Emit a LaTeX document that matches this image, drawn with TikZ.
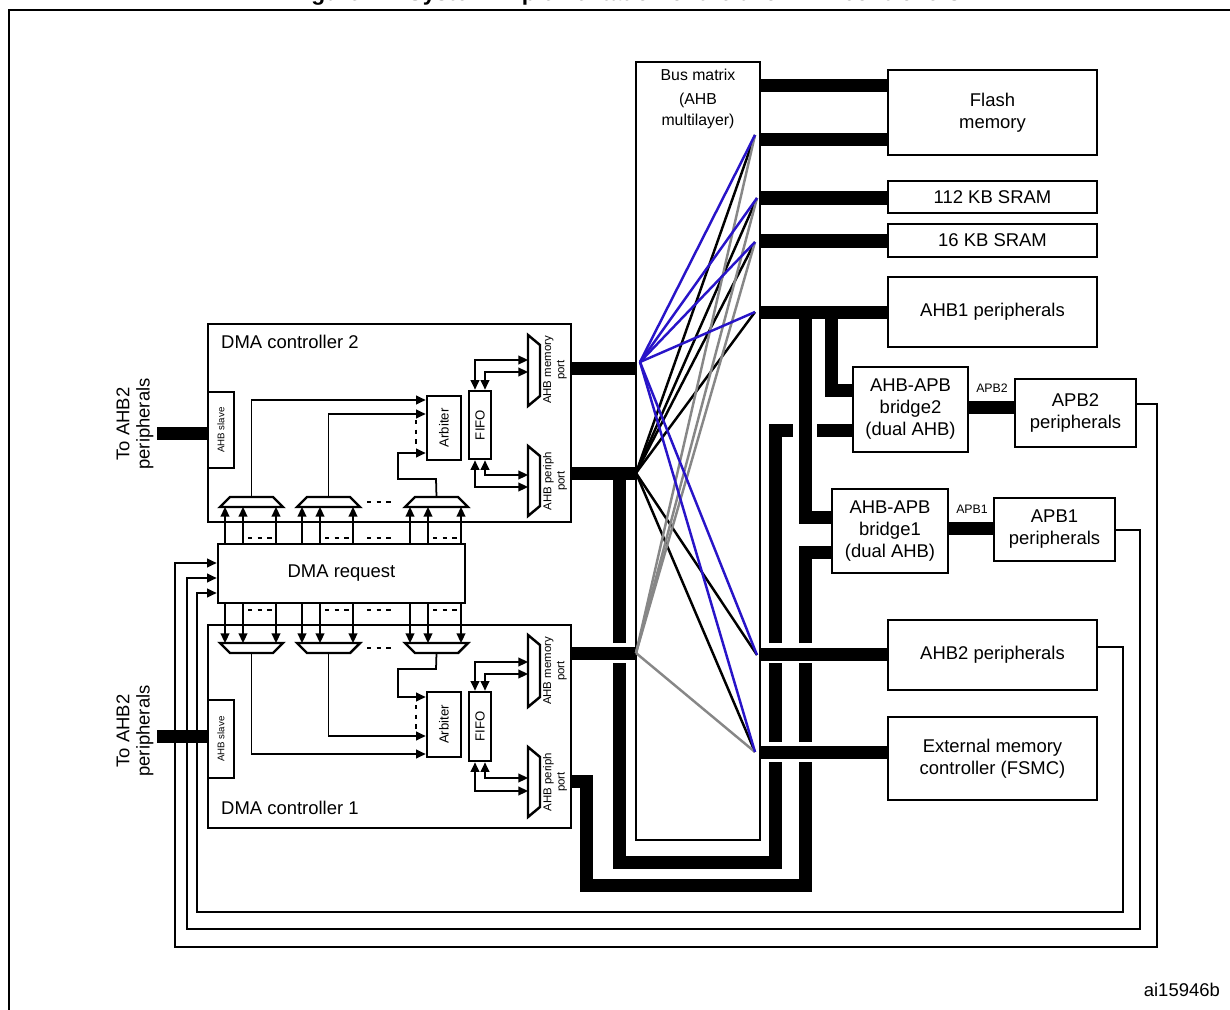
\documentclass[tikz,border=0pt]{standalone}
\usepackage{fontspec}
\setmainfont{Liberation Sans}
\usetikzlibrary{positioning,arrows.meta,calc}
\definecolor{busblue}{RGB}{40,20,200}
\definecolor{busgray}{RGB}{135,135,135}
\tikzset{
  box/.style={draw, line width=1.5pt, align=center, inner sep=0pt, font=\fontsize{10.5}{12.5}\selectfont},
  bus/.style={line width=7.4pt, line join=miter},
  mline/.style={line width=1.4pt},
  link/.style={line width=1pt},
  tip/.tip={Triangle[length=5.5pt,width=5pt]},
  arr/.style={link, -tip},
  darr/.style={link, tip-tip},
  mux/.style={line width=1.4pt, line join=miter},
  dots/.style={line width=1.2pt, dash pattern=on 2.5pt off 3pt},
  small/.style={font=\fontsize{6.5}{7.5}\selectfont, align=center},
}
% box from pixel corners (x1,y1) to (x2,y2)
\newcommand{\blk}[6]{\node[box, minimum width={(#4-#2)*0.02cm}, minimum height={(#5-#3)*0.02cm}] (#1) at ({(#2+#4)/2},{(#3+#5)/2}) {#6};}
\begin{document}
\begin{tikzpicture}[x=0.02cm,y=-0.02cm]
\useasboundingbox (0,0) rectangle (1230,1010);
\draw[line width=1.5pt] (9,1030) -- (9,10) -- (1250,10);
\node[font=\bfseries\fontsize{13}{15}\selectfont, anchor=base] (title) at (626,1) {Figure 22. System implementation of the two DMA controllers};
\node[font=\fontsize{10.5}{12}\selectfont, anchor=east] (ref) at (1226,990) {ai15946b};

% bus matrix and slaves
\node[draw, line width=1.2pt, minimum width={124*0.02cm}, minimum height={778*0.02cm}] (bm) at (698,451) {};
\node[font=\fontsize{9}{12}\selectfont, align=center] (bmlab) at (698,99) {Bus matrix\\[2pt](AHB\\multilayer)};
\blk{flash}{888}{70}{1097}{155}{Flash\\memory}
\blk{sramA}{888}{181}{1097}{213}{112 KB SRAM}
\blk{sramB}{888}{224}{1097}{257}{16 KB SRAM}
\blk{ahbA}{888}{277}{1097}{347}{AHB1 peripherals}
\blk{brgB}{853}{367}{968}{452}{AHB-APB\\bridge2\\(dual AHB)}
\blk{apbB}{1015}{379}{1136}{447}{APB2\\peripherals}
\blk{brgA}{832}{489}{948}{573}{AHB-APB\\bridge1\\(dual AHB)}
\blk{apbA}{994}{498}{1115}{561}{APB1\\peripherals}
\blk{ahbB}{888}{620}{1097}{690}{AHB2 peripherals}
\blk{fsmc}{888}{717}{1097}{800}{External memory\\controller (FSMC)}
\node[small, font=\fontsize{7}{8}\selectfont] (apbBlab) at (992,388) {APB2};
\node[small, font=\fontsize{7}{8}\selectfont] (apbAlab) at (972,509) {APB1};

% DMA controller 2
\blk{dmaB}{208}{324}{571}{522}{}
\node[anchor=west, font=\fontsize{10.5}{12}\selectfont] (dmaBlab) at (215,342) {DMA controller 2};
\blk{slvB}{208}{392}{234}{468}{\fontsize{5.5}{6}\selectfont\rotatebox{90}{AHB slave}}
\blk{arbB}{427}{396}{461}{460}{\fontsize{7.5}{8}\selectfont\rotatebox{90}{Arbiter}}
\blk{fifoB}{469}{391}{491}{459}{\fontsize{7.5}{8}\selectfont\rotatebox{90}{FIFO}}
\draw[mux] (528,335) -- (540,345) -- (540,396) -- (528,406) -- cycle;
\draw[mux] (528,446) -- (540,456) -- (540,506) -- (528,516) -- cycle;
\node[small, rotate=90] (memB) at (555,370) {AHB memory\\port};
\node[small, rotate=90] (perB) at (555,481) {AHB periph\\port};
\draw[darr] ([xshift=-0.1cm]fifoB.north) |- (528,360);
\draw[darr] ([xshift=0.1cm]fifoB.north) |- (528,372);
\draw[darr] ([xshift=-0.1cm]fifoB.south) |- (528,487);
\draw[darr] ([xshift=0.1cm]fifoB.south) |- (528,475);

% DMA request
\blk{dmareq}{218}{544}{465}{603}{DMA request}

% DMA controller 1
\blk{dmaA}{208}{625}{571}{828}{}
\node[anchor=west, font=\fontsize{10.5}{12}\selectfont] (dmaAlab) at (215,808) {DMA controller 1};
\blk{slvA}{208}{700}{234}{778}{\fontsize{5.5}{6}\selectfont\rotatebox{90}{AHB slave}}
\blk{arbA}{427}{692}{461}{757}{\fontsize{7.5}{8}\selectfont\rotatebox{90}{Arbiter}}
\blk{fifoA}{469}{692}{491}{761}{\fontsize{7.5}{8}\selectfont\rotatebox{90}{FIFO}}
\draw[mux] (528,635) -- (540,645) -- (540,697) -- (528,707) -- cycle;
\draw[mux] (528,747) -- (540,757) -- (540,807) -- (528,817) -- cycle;
\node[small, rotate=90] (memA) at (555,671) {AHB memory\\port};
\node[small, rotate=90] (perA) at (555,782) {AHB periph\\port};
\draw[darr] ([xshift=-0.1cm]fifoA.north) |- (528,662);
\draw[darr] ([xshift=0.1cm]fifoA.north) |- (528,674);
\draw[darr] ([xshift=0.1cm]fifoA.south) |- (528,778);
\draw[darr] ([xshift=-0.1cm]fifoA.south) |- (528,791);

% channel muxes
\foreach \mx [count=\i] in {220,297,405} {
  \draw[mux] (\mx,507) -- (\mx+10,497) -- (\mx+53,497) -- (\mx+63,507) -- cycle;
  \draw[mux] (\mx,643) -- (\mx+63,643) -- (\mx+53,653) -- (\mx+10,653) -- cycle;
  \coordinate (muxB\i) at (\mx+31.5,497);
  \coordinate (muxA\i) at (\mx+31.5,653);
  \foreach \dx in {5,23,56} {
    \draw[arr] (\mx+\dx,544) -- (\mx+\dx,507);
    \draw[arr] (\mx+\dx,603) -- (\mx+\dx,643);
  }
  \draw[dots] (\mx+28,538) -- (\mx+52,538);
  \draw[dots] (\mx+28,610) -- (\mx+52,610);
}
\draw[dots] (367,538) -- (392,538);
\draw[dots] (367,610) -- (392,610);
\draw[dots] (367,502) -- (392,502);
\draw[dots] (367,648) -- (392,648);

\draw[arr] (muxB1) |- (arbB.west |- 0,400);
\draw[arr] (muxB2) |- (arbB.west |- 0,414);
\draw[arr] (muxB3) -- (436,479) -| (398,453) -- (arbB.west |- 0,453);
\draw[dots] (416,420) -- (416,444);
\draw[arr] (muxA1) |- (arbA.west |- 0,754);
\draw[arr] (muxA2) |- (arbA.west |- 0,736);
\draw[arr] (muxA3) -- (436,669) -| (398,697) -- (arbA.west |- 0,697);
\draw[dots] (416,705) -- (416,729);

% AHB slave ports
\draw[bus] (157,433) -- (slvB.west |- 0,433);
\draw[bus] (157,736) -- (slvA.west |- 0,736);
\node[rotate=90, align=center, font=\fontsize{10.5}{11.5}\selectfont] (toB) at (135,424) {To AHB2\\peripherals};
\node[rotate=90, align=center, font=\fontsize{10.5}{11.5}\selectfont] (toA) at (135,731) {To AHB2\\peripherals};

% master buses
\draw[bus] (dmaB.east |- 0,368) -- (bm.west |- 0,368);
\draw[bus] (dmaB.east |- 0,473) -- (bm.west |- 0,473);
\draw[bus] (dmaA.east |- 0,653) -- (bm.west |- 0,653);
\draw[bus] (619,467) -- (619,643);
\draw[bus] (619,663) -- (619,862) -- (775,862) -- (775,762);
\draw[bus] (775,742) -- (775,663);
\draw[bus] (775,643) -- (775,430) -- (793,430);
\draw[bus] (817,430) -- (brgB.west |- 0,430);
\draw[bus] (dmaA.east |- 0,781) -- (586,781) -- (586,885) -- (805,885) -- (805,762);
\draw[bus] (805,742) -- (805,663);
\draw[bus] (805,643) -- (805,552) -- (brgA.west |- 0,552);

% slave buses
\draw[bus] (bm.east |- 0,86) -- (flash.west |- 0,86);
\draw[bus] (bm.east |- 0,140) -- (flash.west |- 0,140);
\draw[bus] (bm.east |- 0,198) -- (sramA.west |- 0,198);
\draw[bus] (bm.east |- 0,241) -- (sramB.west |- 0,241);
\draw[bus] (bm.east |- 0,312) -- (ahbA.west |- 0,312);
\draw[bus] (bm.east |- 0,654) -- (ahbB.west |- 0,654);
\draw[bus] (bm.east |- 0,752) -- (fsmc.west |- 0,752);
\draw[bus] (805,308) -- (805,517) -- (brgA.west |- 0,517);
\draw[bus] (831,308) -- (831,390) -- (brgB.west |- 0,390);
\draw[bus] (brgB.east |- 0,407) -- (apbB.west |- 0,407);
\draw[bus] (brgA.east |- 0,528) -- (apbA.west |- 0,528);

% matrix paths
\coordinate (mB) at (640,362);
\coordinate (pB) at (636,473);
\coordinate (mA) at (636,653);
\coordinate (s1) at (755,135);
\coordinate (s2) at (757,198);
\coordinate (s3) at (755,242);
\coordinate (s4) at (755,312);
\coordinate (s5) at (757,655);
\coordinate (s6) at (755,752);
\foreach \s in {s1,s2,s3,s4,s5,s6} \draw[mline] (pB) -- (\s);
\foreach \s in {s1,s2,s3,s6} \draw[mline, busgray] (mA) -- (\s);
\foreach \s in {s1,s2,s3,s4,s5,s6} \draw[mline, busblue] (mB) -- (\s);

% request lines back to DMA request
\draw[arr] (apbB.east |- 0,404) -| (1157,947) -| (175,563) -- (dmareq.west |- 0,563);
\draw[arr] (apbA.east |- 0,530) -| (1140,929) -| (187,578) -- (dmareq.west |- 0,578);
\draw[arr] (ahbB.east |- 0,647) -| (1123,912) -| (197,593) -- (dmareq.west |- 0,593);
\end{tikzpicture}
\end{document}
